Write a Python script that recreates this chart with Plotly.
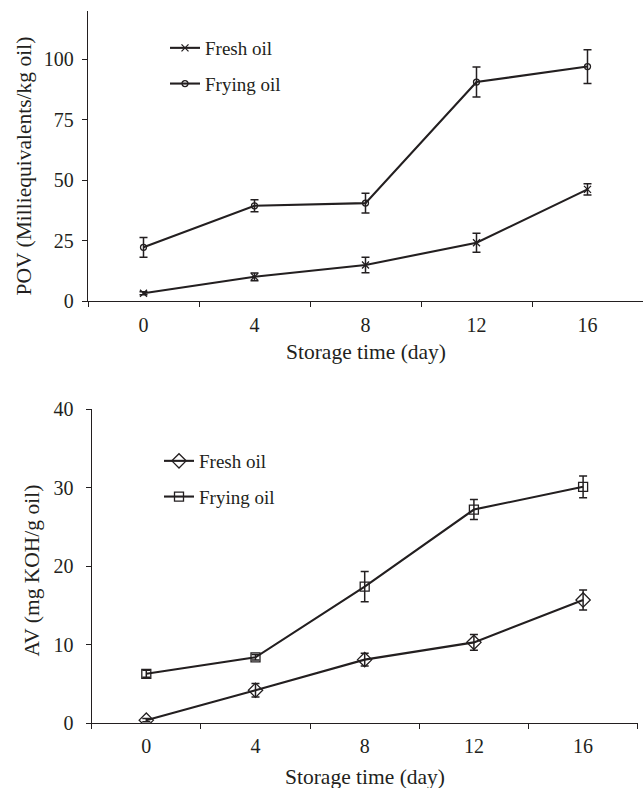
import plotly.graph_objects as go

# ---------------- data ----------------
days = [0, 4, 8, 12, 16]

pov_fresh = [3.2, 10.0, 14.9, 24.1, 46.2]
pov_fresh_err = [0.6, 1.6, 3.2, 3.9, 2.3]
pov_frying = [22.2, 39.4, 40.5, 90.6, 97.0]
pov_frying_err = [4.1, 2.5, 4.1, 6.2, 7.0]

av_fresh = [0.4, 4.2, 8.1, 10.3, 15.7]
av_fresh_err = [0.2, 0.85, 0.8, 1.0, 1.27]
av_frying = [6.3, 8.4, 17.4, 27.2, 30.1]
av_frying_err = [0.45, 0.35, 1.93, 1.27, 1.38]

series_names = ["Fresh oil", "Frying oil"]
pov_ticks = [0, 25, 50, 75, 100]
av_ticks = [0, 10, 20, 30, 40]
x_title = "Storage time (day)"
pov_title = "POV (Milliequivalents/kg oil)"
av_title = "AV (mg KOH/g oil)"

# ---------------- style ----------------
W, H = 643, 788
INK = "#231f20"
FONT = "Liberation Serif, Times New Roman, serif"


def px_x(p):
    return p / W


def px_y(p):
    return (H - p) / H


def trace(x, y, err, name, symbol, size, xa, ya, legend, group):
    return go.Scatter(
        x=x, y=y, name=name, mode="lines+markers",
        xaxis=xa, yaxis=ya, legend=legend, legendgroup=group,
        line=dict(color=INK, width=2.1),
        marker=dict(symbol=symbol, size=size, color=INK,
                    line=dict(color=INK, width=1.3)),
        error_y=dict(type="data", array=err, visible=True,
                     color=INK, thickness=1.5, width=4),
    )


fig = go.Figure()
fig.add_trace(trace(days, pov_fresh, pov_fresh_err, series_names[0],
                    "x-thin-open", 7, "x", "y", "legend", "a"))
fig.add_trace(trace(days, pov_frying, pov_frying_err, series_names[1],
                    "circle-open", 6, "x", "y", "legend", "b"))
fig.add_trace(trace(days, av_fresh, av_fresh_err, series_names[0],
                    "diamond-open", 11, "x2", "y2", "legend2", "c"))
fig.add_trace(trace(days, av_frying, av_frying_err, series_names[1],
                    "square-open", 9, "x2", "y2", "legend2", "d"))


def xaxis_style(standoff):
    return dict(
        range=[-2, 18], tickvals=days, ticks="", showline=True,
        linecolor=INK, linewidth=1.3, showgrid=False, zeroline=False,
        tickfont=dict(family=FONT, size=20, color=INK),
        minor=dict(tickvals=[-2, 2, 6, 10, 14, 18], ticks="outside",
                   ticklen=5, tickwidth=1.3, tickcolor=INK, showgrid=False),
        ticklabelstandoff=standoff, fixedrange=True,
    )


def yaxis_style(standoff):
    return dict(
        ticks="outside", ticklen=5, tickwidth=1.3, tickcolor=INK,
        showline=True, linecolor=INK, linewidth=1.3, showgrid=False,
        zeroline=False, tickfont=dict(family=FONT, size=20, color=INK),
        ticklabelstandoff=standoff, fixedrange=True,
    )


fig.update_layout(
    width=W, height=H, autosize=False,
    margin=dict(l=0, r=0, t=0, b=0, autoexpand=False),
    paper_bgcolor="white", plot_bgcolor="white",
    font=dict(family=FONT, color=INK),
    xaxis=dict(domain=[px_x(88), 1.0], anchor="y", **xaxis_style(6)),
    yaxis=dict(domain=[px_y(301), px_y(11)], anchor="x",
               range=[0, 120], tickvals=pov_ticks, **yaxis_style(4)),
    xaxis2=dict(domain=[px_x(91.7), px_x(637.7)], anchor="y2",
                **xaxis_style(5)),
    yaxis2=dict(domain=[px_y(723.3), px_y(409)], anchor="x2",
                range=[0, 40], tickvals=av_ticks, **yaxis_style(8)),
    legend=dict(x=px_x(165), y=px_y(29), xanchor="left", yanchor="top",
                font=dict(family=FONT, size=19, color=INK),
                bgcolor="rgba(0,0,0,0)", traceorder="grouped",
                tracegroupgap=8, itemwidth=30),
    legend2=dict(x=px_x(159), y=px_y(442), xanchor="left", yanchor="top",
                 font=dict(family=FONT, size=19, color=INK),
                 bgcolor="rgba(0,0,0,0)", traceorder="grouped",
                 tracegroupgap=8, itemwidth=30),
    showlegend=True,
)

ann_font = dict(family=FONT, size=21.5, color=INK)
fig.add_annotation(text=x_title, xref="paper", yref="paper",
                   x=px_x(366), y=px_y(352), showarrow=False,
                   xanchor="center", yanchor="middle", font=ann_font)
fig.add_annotation(text=x_title, xref="paper", yref="paper",
                   x=px_x(365), y=px_y(777), showarrow=False,
                   xanchor="center", yanchor="middle", font=ann_font)
fig.add_annotation(text=pov_title, xref="paper", yref="paper",
                   x=px_x(23.5), y=px_y(166), showarrow=False, textangle=-90,
                   xanchor="center", yanchor="middle", font=ann_font)
fig.add_annotation(text=av_title, xref="paper", yref="paper",
                   x=px_x(31.5), y=px_y(571), showarrow=False, textangle=-90,
                   xanchor="center", yanchor="middle", font=ann_font)

fig.write_html("out.html", config=dict(displayModeBar=False))
